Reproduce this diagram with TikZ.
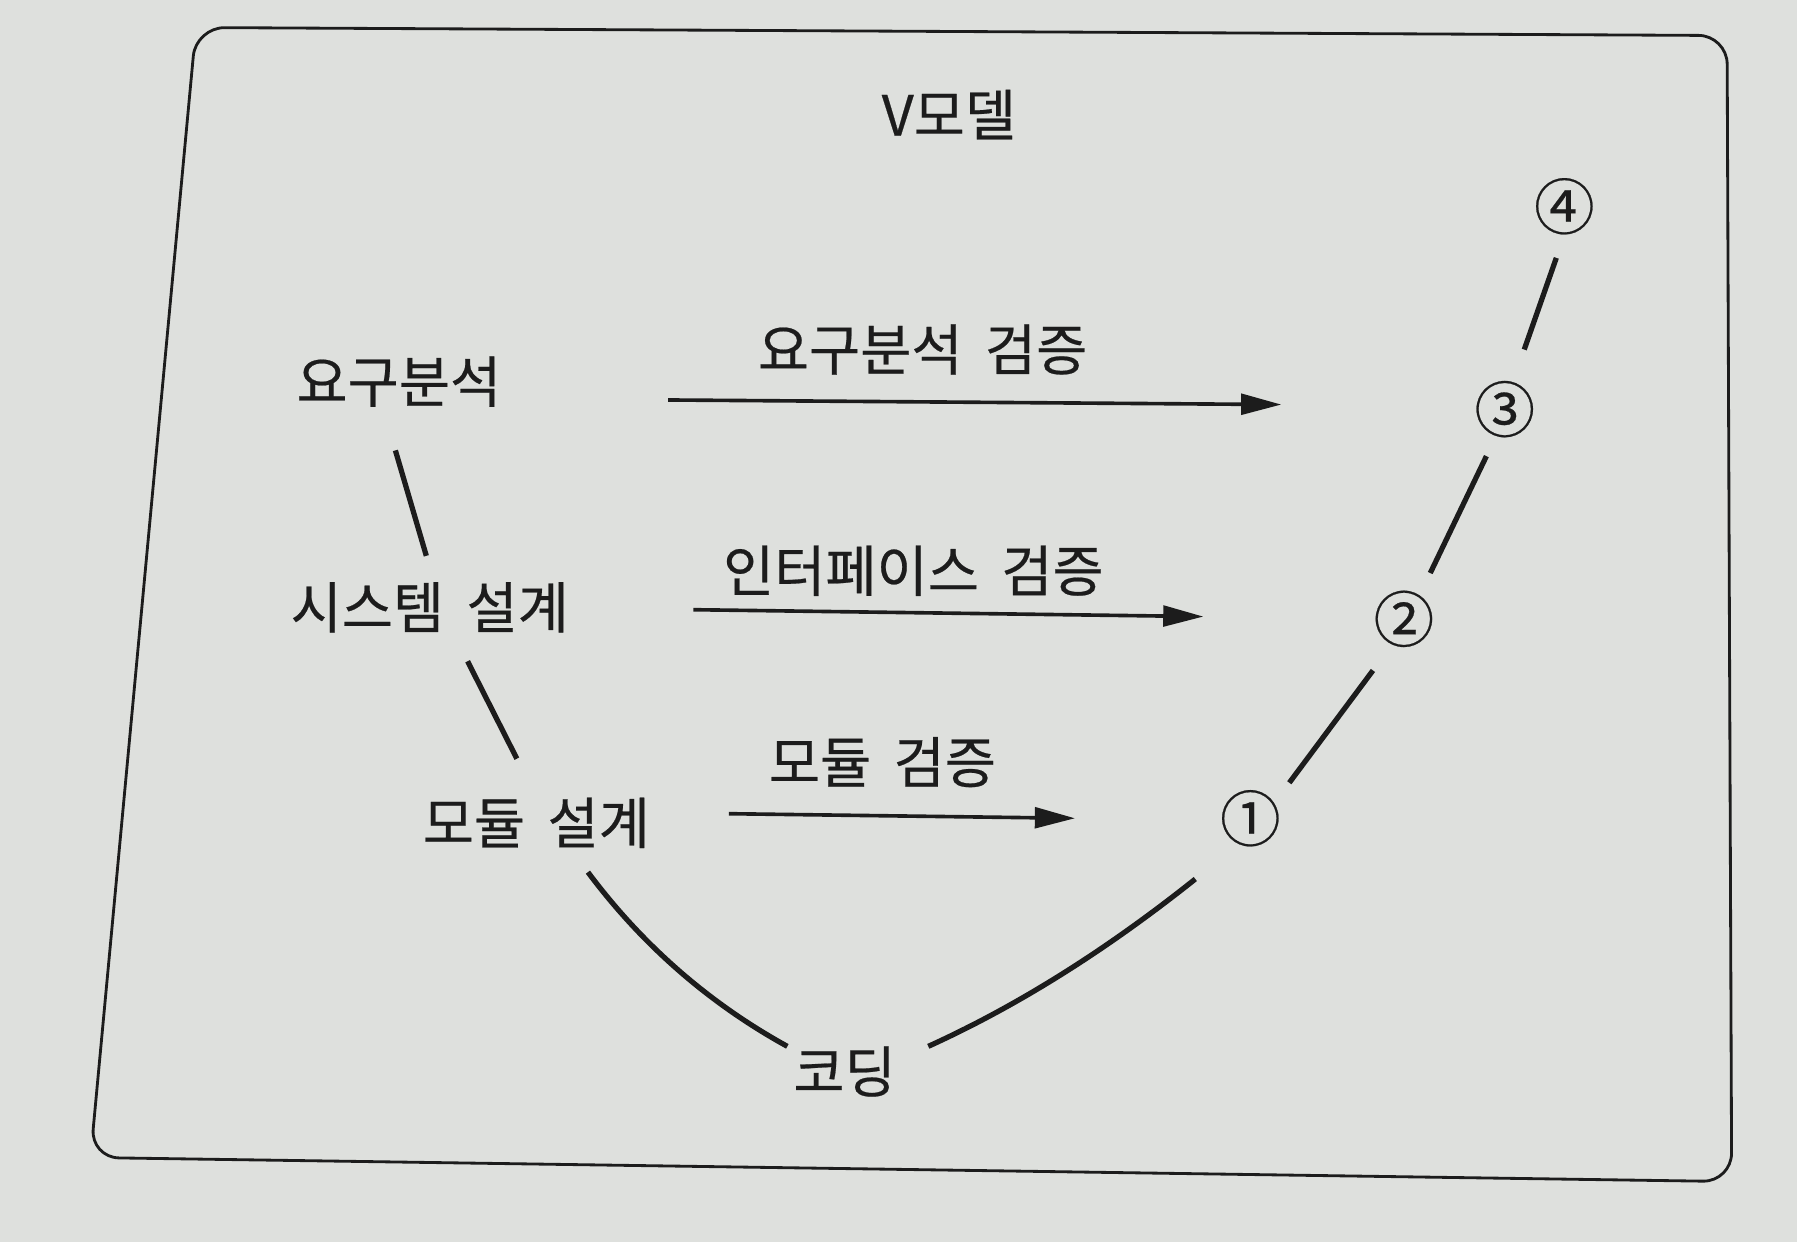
\documentclass[tikz,border=0pt]{standalone}
\usepackage{fontspec}
\newfontfamily\kofont[FakeBold=0.4,WordSpace={1.8,0,0}]{Noto Sans CJK KR}
\usepackage{tikz}
\usetikzlibrary{arrows.meta,calc,positioning}
\usepackage{xcolor}
\definecolor{vpaper}{RGB}{222,224,221}
\definecolor{vink}{RGB}{28,28,28}
\tikzstyle{verifyarrow} = [line width=0.9pt,-{Triangle[length=3.5mm,width=1.8mm]},color=vink]
\tikzstyle{stageline} = [line width=1.3pt,color=vink]
\tikzstyle{stagenode} = [inner sep=0pt, text=vink, font=\kofont\fontsize{13.8}{16}\selectfont]
\tikzstyle{numnode} = [stagenode, font=\kofont\fontsize{15}{17}\selectfont]

\begin{document}
\begin{tikzpicture}[x=0.01cm, y=-0.01cm]
\fill[vpaper] (0,0) rectangle (1568,1084);
\useasboundingbox (0,0) rectangle (1568,1084);
\draw[vink, line width=0.7pt, rounded corners=0.25cm] (171,24) -- (1507,31) -- (1511,1031) -- (79,1010) -- cycle;

\node[stagenode] (title) at (828,100) {V모델};

% left side and bottom
\node[stagenode] (req) at (348,333) {요구분석};
\node[stagenode] (sys) at (375,530) {시스템 설계};
\node[stagenode] (mod) at (468,718) {모듈 설계};
\node[stagenode] (coding) at (737,935) {코딩};

% right side
\node[numnode] (c1) at (1091,714) {①};
\node[numnode] (c2) at (1225,540) {②};
\node[numnode] (c3) at (1313,357) {③};
\node[numnode] (c4) at (1365,180) {④};

\node[stagenode] (vreq) at (805,305) {요구분석 검증};
\node[stagenode] (vint) at (797,498) {인터페이스 검증};
\node[stagenode] (vmod) at (770,665) {모듈 검증};

\draw[stageline] ($(req)+(-3,60)$) -- ($(sys)+(-3,-45)$);
\draw[stageline] ($(sys)+(33,47)$) -- ($(mod)+(-17,-56)$);
\draw[stageline] ($(mod)+(45,43)$) .. controls (560,824) and (618,875) .. ($(coding)+(-50,-22)$);
\draw[stageline] ($(coding)+(73,-22)$) .. controls (887,878) and (964,830) .. ($(c1)+(-48,53)$);
\draw[stageline] ($(c1)+(34,-31)$) -- ($(c2)+(-27,45)$);
\draw[stageline] ($(c2)+(23,-40)$) -- ($(c3)+(-16,41)$);
\draw[stageline] ($(c3)+(17,-52)$) -- ($(c4)+(-7,45)$);

\draw[verifyarrow] ($(vreq)+(-222,44)$) -- ($(vreq)+(313,48)$);
\draw[verifyarrow] ($(vint)+(-192,34)$) -- ($(vint)+(253,40)$);
\draw[verifyarrow] ($(vmod)+(-134,45)$) -- ($(vmod)+(168,49)$);
\end{tikzpicture}
\end{document}
